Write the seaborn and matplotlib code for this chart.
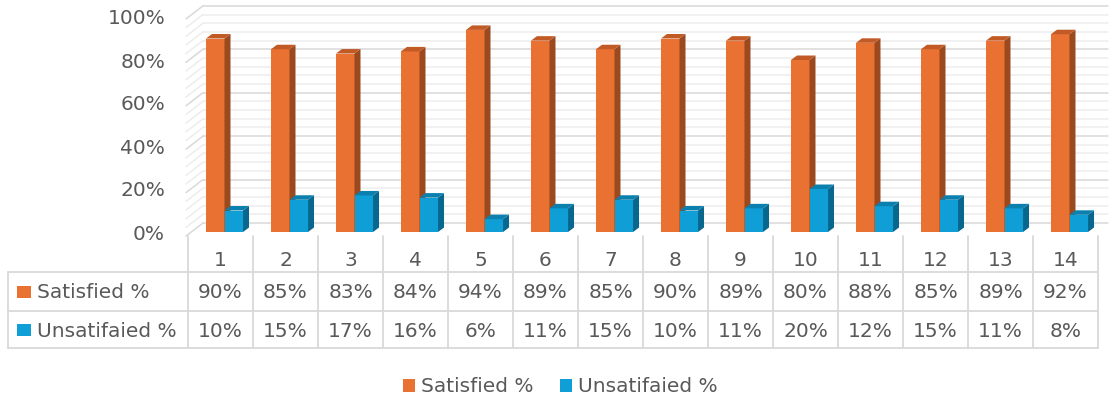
import numpy as np
import pandas as pd
import matplotlib
matplotlib.use("Agg")
import matplotlib.pyplot as plt
import seaborn as sns
from matplotlib.patches import Polygon, Rectangle, Patch
from matplotlib.lines import Line2D

# ---- data ----
categories = [str(i) for i in range(1, 15)]
satisfied = [0.90, 0.85, 0.83, 0.84, 0.94, 0.89, 0.85, 0.90, 0.89, 0.80, 0.88, 0.85, 0.89, 0.92]
unsatisfied = [0.10, 0.15, 0.17, 0.16, 0.06, 0.11, 0.15, 0.10, 0.11, 0.20, 0.12, 0.15, 0.11, 0.08]
series_names = ["Satisfied %", "Unsatifaied %"]
y_ticks = [0.0, 0.2, 0.4, 0.6, 0.8, 1.0]
y_tick_labels = ["0%", "20%", "40%", "60%", "80%", "100%"]

ORANGE, BLUE = "#E97132", "#0F9ED5"
SIDE = {ORANGE: "#9B491E", BLUE: "#07678F"}
TOP = {ORANGE: "#C25A26", BLUE: "#0B80AE"}
TEXT = "#595959"
GRID_MAJOR, GRID_MINOR, TABLE_LINE = "#D9D9D9", "#EDEDED", "#D9D9D9"

sns.set_theme(style="white")
plt.rcParams["font.family"] = ["DejaVu Sans"]
FS = 14.5

W, H = 1110, 405
fig = plt.figure(figsize=(W / 100, H / 100), dpi=100)
fig.patch.set_facecolor("white")


def fx(px):
    return px / W


def fy(py):
    return 1 - py / H


# plot area: category slots 65 px wide starting at x=188, 0% at y=232, 100% at y=17
AX_L, AX_R, AX_ZERO, AX_TOP = 188, 1098, 232, 17
ax = fig.add_axes([fx(AX_L), fy(AX_ZERO), fx(AX_R) - fx(AX_L), (AX_ZERO - AX_TOP) / H])

df = pd.DataFrame({
    "category": categories * 2,
    "series": [series_names[0]] * len(categories) + [series_names[1]] * len(categories),
    "value": satisfied + unsatisfied,
})
sns.barplot(data=df, x="category", y="value", hue="series", order=categories,
            hue_order=series_names, palette=[ORANGE, BLUE], width=0.57,
            saturation=1, legend=False, ax=ax)

ax.set_xlim(-0.5, len(categories) - 0.5)
ax.set_ylim(0, 1)
for s in ax.spines.values():
    s.set_visible(False)
ax.set_xticks([])
ax.set_xlabel("")
ax.set_ylabel("")
ax.set_yticks(y_ticks)
ax.set_yticklabels(y_tick_labels)
ax.tick_params(axis="y", length=0, pad=16.5, labelsize=FS, labelcolor=TEXT)
ax.set_facecolor("none")

slot_px = (AX_R - AX_L) / len(categories)
unit_px = AX_ZERO - AX_TOP
shift = 4 / slot_px           # perspective nudge of the bars to the right
ddx, ddy = 6 / slot_px, 4.5 / unit_px   # depth of the 3-D blocks

# ---- back wall, left wall grid ----
wall_scale = 1.01
back_dx = 15 / slot_px
front_dx = -2 / slot_px
back_up, front_down = 0.042, -0.019
x_right = len(categories) - 0.5 + 10 / slot_px
for k, v in enumerate(np.arange(0, 1.0001, 0.04)):
    major = (k % 5 == 0)
    col = GRID_MAJOR if major else GRID_MINOR
    yb = v * wall_scale + back_up
    yf = v * wall_scale + front_down
    ax.plot([-0.5 + back_dx, x_right], [yb, yb], color=col, lw=1.1,
            clip_on=False, zorder=0.5 if major else 0.4)
    ax.plot([-0.5 + front_dx, -0.5 + back_dx], [yf, yb], color=col, lw=1.1,
            clip_on=False, zorder=0.5 if major else 0.4)

# ---- 3-D blocks ----
n = len(categories)
for i, p in enumerate(ax.patches):
    color = ORANGE if i < n else BLUE
    z = 2 if i < n else 3
    p.set_x(p.get_x() + shift)
    p.set_zorder(z)
    p.set_edgecolor("none")
    x0, w, h = p.get_x(), p.get_width(), p.get_height()
    side = Polygon([(x0 + w, 0), (x0 + w, h), (x0 + w + ddx, h + ddy), (x0 + w + ddx, ddy)],
                   closed=True, facecolor=SIDE[color], edgecolor="none",
                   zorder=z, clip_on=False)
    top = Polygon([(x0, h), (x0 + w, h), (x0 + w + ddx, h + ddy), (x0 + ddx, h + ddy)],
                  closed=True, facecolor=TOP[color], edgecolor="none",
                  zorder=z, clip_on=False)
    ax.add_patch(side)
    ax.add_patch(top)


# ---- data table ----
def hline(x0, x1, y):
    fig.add_artist(Line2D([fx(x0), fx(x1)], [fy(y), fy(y)], color=TABLE_LINE, lw=1.3))


def vline(x, y0, y1):
    fig.add_artist(Line2D([fx(x), fx(x)], [fy(y0), fy(y1)], color=TABLE_LINE, lw=1.3))


TBL_L, HDR_TOP, ROW1, ROW2, TBL_BOT = 8, 236, 272, 311, 348
for i in range(n + 1):
    vline(AX_L + i * slot_px, HDR_TOP, TBL_BOT)
vline(TBL_L, ROW1, TBL_BOT)
for y in (ROW1, ROW2, TBL_BOT):
    hline(TBL_L, AX_R, y)

for i, c in enumerate(categories):
    cx = fx(AX_L + (i + 0.5) * slot_px)
    fig.text(cx, fy(266), c, ha="center", va="baseline", fontsize=FS, color=TEXT)
    fig.text(cx, fy(298), f"{satisfied[i] * 100:.0f}%", ha="center", va="baseline",
             fontsize=FS, color=TEXT)
    fig.text(cx, fy(337), f"{unsatisfied[i] * 100:.0f}%", ha="center", va="baseline",
             fontsize=FS, color=TEXT)

for name, color, base, sq_top in ((series_names[0], ORANGE, 298, 286),
                                  (series_names[1], BLUE, 337, 324)):
    fig.add_artist(Rectangle((fx(17), fy(sq_top + 12)), 14 / W, 12 / H,
                             transform=fig.transFigure, facecolor=color, edgecolor="none"))
    fig.text(fx(37), fy(base), name, ha="left", va="baseline", fontsize=FS, color=TEXT)

# ---- legend ----
handles = [Patch(facecolor=ORANGE, edgecolor="none"), Patch(facecolor=BLUE, edgecolor="none")]
fig.legend(handles, series_names, loc="center", bbox_to_anchor=(fx(560), fy(387)),
           ncol=2, frameon=False, fontsize=FS, labelcolor=TEXT,
           handlelength=0.6, handleheight=0.6, handletextpad=0.3, columnspacing=1.3)

fig.savefig("out.png", dpi=100, facecolor="white")
